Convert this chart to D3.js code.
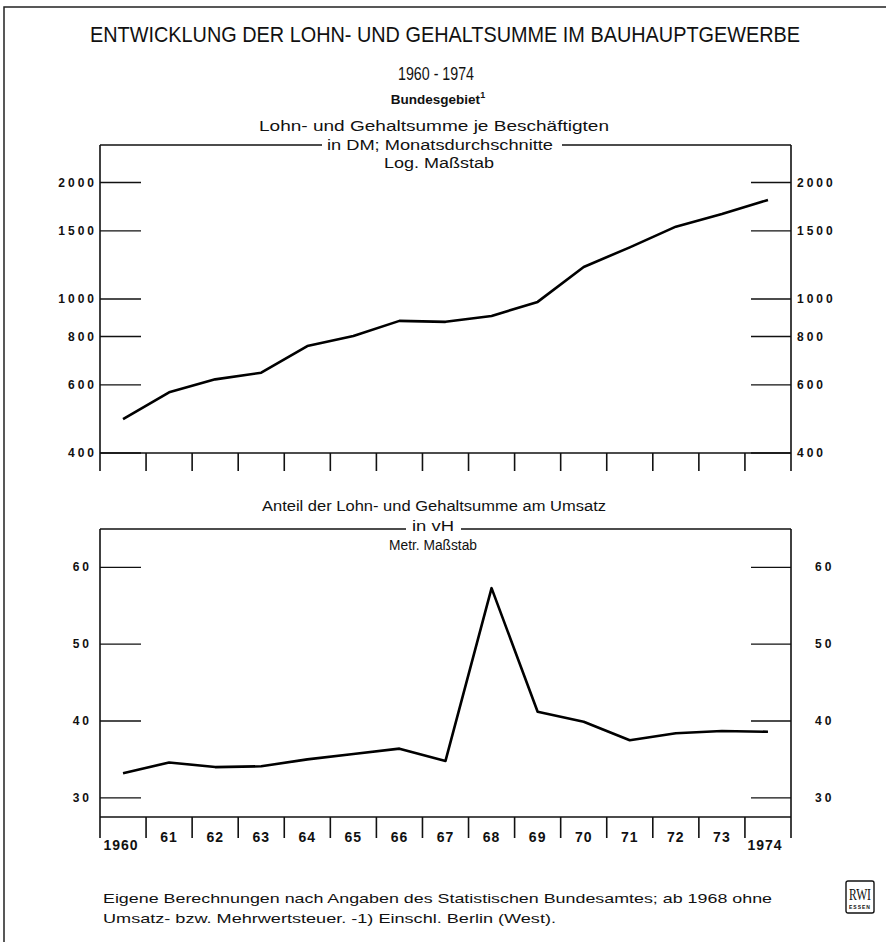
<!DOCTYPE html>
<html>
<head>
<meta charset="utf-8">
<script src="https://cdn.jsdelivr.net/npm/d3@7"></script>
<style>
    body { margin: 0; background: #fff; }
    text { font-family: "Liberation Sans", "DejaVu Sans", sans-serif; fill: #111; }
</style>
</head>
<body>
<div id="chart"></div>
<script>
// Jahre 1960 - 1974
var years = [1960, 1961, 1962, 1963, 1964, 1965, 1966, 1967, 1968, 1969, 1970, 1971, 1972, 1973, 1974]
var yearLabels = ['1960', '61', '62', '63', '64', '65', '66', '67', '68', '69', '70', '71', '72', '73', '1974']
// Lohn- und Gehaltsumme je Beschaeftigten, DM, Monatsdurchschnitt
var lohnJeBesch = [489, 574, 620, 645, 756, 802, 878, 873, 904, 983, 1210, 1360, 1538, 1659, 1803]
// Anteil am Umsatz, vH
var anteilUmsatz = [33.2, 34.6, 34.0, 34.1, 35.0, 35.7, 36.4, 34.8, 57.3, 41.2, 39.9, 37.5, 38.4, 38.7, 38.6]
var topTicks = [400, 600, 800, 1000, 1500, 2000]
var bottomTicks = [30, 40, 50, 60]

var width = 886, height = 942
var svg = d3.select('#chart').append('svg').attr('width', width).attr('height', height)
svg.append('rect').attr('width', width).attr('height', height).attr('fill', '#fff')

// Rahmen aussen
svg.append('path').attr('d', 'M4,942 V7 H886').attr('fill', 'none').attr('stroke', '#222').attr('stroke-width', 1.5)

var x = d3.scaleLinear().domain([1959.5, 1974.5]).range([100, 791])
var bounds = d3.range(1959.5, 1975, 1)

function addText(t, cx, y, size, len, weight) {
    var el = svg.append('text').attr('x', cx).attr('y', y).attr('text-anchor', 'middle')
        .style('font-size', size + 'px').text(t)
    if (len) el.attr('textLength', len).attr('lengthAdjust', 'spacingAndGlyphs')
    if (weight) el.style('font-weight', weight)
    return el
}

// Ueberschriften
addText('ENTWICKLUNG DER LOHN- UND GEHALTSUMME IM BAUHAUPTGEWERBE', 445, 42, 22, 710)
addText('1960 - 1974', 436, 80, 19, 76)
var bg = svg.append('text').attr('x', 438).attr('y', 104).attr('text-anchor', 'middle')
    .style('font-size', '13.5px').style('font-weight', 'bold')
bg.append('tspan').text('Bundesgebiet')
bg.append('tspan').attr('dy', -6).style('font-size', '9px').text('1')

addText('Lohn- und Gehaltsumme je Beschäftigten', 434, 131, 14, 350)
addText('in DM; Monatsdurchschnitte', 440, 150, 14, 226)
addText('Log. Maßstab', 439, 168, 14, 110)

addText('Anteil der Lohn- und Gehaltsumme am Umsatz', 434, 511, 14, 344)
addText('in vH', 433, 531, 14, 42)
addText('Metr. Maßstab', 433, 550, 14, 88)

function frame(top, bottom, tickEnd, gapFrom, gapTo) {
    var g = svg.append('g').attr('fill', 'none').attr('stroke', '#111').attr('stroke-width', 1.6)
    g.append('line').attr('x1', x.range()[0]).attr('x2', gapFrom).attr('y1', top).attr('y2', top)
    g.append('line').attr('x1', gapTo).attr('x2', x.range()[1]).attr('y1', top).attr('y2', top)
    g.append('line').attr('x1', x.range()[0]).attr('x2', x.range()[1]).attr('y1', bottom).attr('y2', bottom)
    g.append('line').attr('x1', x.range()[0]).attr('x2', x.range()[0]).attr('y1', top).attr('y2', tickEnd)
    g.append('line').attr('x1', x.range()[1]).attr('x2', x.range()[1]).attr('y1', top).attr('y2', tickEnd)
    // Jahresgrenzen
    g.selectAll('.b').data(bounds.slice(1, -1)).enter().append('line')
        .attr('x1', function (d) { return x(d) }).attr('x2', function (d) { return x(d) })
        .attr('y1', bottom).attr('y2', tickEnd)
}

function yTicks(scale, ticks, leftLabelX, rightLabelX) {
    var g = svg.append('g')
    g.selectAll('line.l').data(ticks).enter().append('line')
        .attr('x1', 100).attr('x2', 141)
        .attr('y1', function (d) { return scale(d) }).attr('y2', function (d) { return scale(d) })
        .attr('stroke', '#111').attr('stroke-width', 1.3)
    g.selectAll('line.r').data(ticks).enter().append('line')
        .attr('x1', 751).attr('x2', 791)
        .attr('y1', function (d) { return scale(d) }).attr('y2', function (d) { return scale(d) })
        .attr('stroke', '#111').attr('stroke-width', 1.3)
    g.selectAll('text.l').data(ticks).enter().append('text')
        .attr('x', leftLabelX).attr('y', function (d) { return scale(d) + 4 })
        .attr('text-anchor', 'end').style('font-size', '12px').style('font-weight', 'bold')
        .style('letter-spacing', '3px')
        .text(function (d) { return d })
    g.selectAll('text.r').data(ticks).enter().append('text')
        .attr('x', rightLabelX).attr('y', function (d) { return scale(d) + 4 })
        .style('font-size', '12px').style('font-weight', 'bold').style('letter-spacing', '3px')
        .text(function (d) { return d })
}

// oberes Diagramm, log. Massstab
var yTop = d3.scaleLog().domain([400, 2500]).range([453, 145])
frame(145, 453, 471, 322, 562)
yTicks(yTop, topTicks, 97, 797)

var line1 = d3.line().x(function (d, i) { return x(years[i]) }).y(function (d) { return yTop(d) })
svg.append('path').datum(lohnJeBesch).attr('d', line1)
    .attr('fill', 'none').attr('stroke', '#000').attr('stroke-width', 2.6).attr('stroke-linejoin', 'round')

// unteres Diagramm, metr. Massstab
var yBot = d3.scaleLinear().domain([27.5, 65]).range([817, 529])
frame(529, 817, 838, 406, 461)
yTicks(yBot, bottomTicks, 92, 815)

var line2 = d3.line().x(function (d, i) { return x(years[i]) }).y(function (d) { return yBot(d) })
svg.append('path').datum(anteilUmsatz).attr('d', line2)
    .attr('fill', 'none').attr('stroke', '#000').attr('stroke-width', 2.6).attr('stroke-linejoin', 'round')

svg.selectAll('text.yr').data(yearLabels).enter().append('text')
    .attr('x', function (d, i) { return x(years[i]) + (i == 0 ? -2 : i == 14 ? -3 : 0) })
    .attr('y', function (d, i) { return (i == 0 || i == 14) ? 850 : 842 })
    .attr('text-anchor', 'middle').style('font-size', '14px').style('font-weight', 'bold')
    .style('letter-spacing', '1px')
    .text(function (d) { return d })

// Fussnote
svg.append('text').attr('x', 103).attr('y', 903).style('font-size', '13px')
    .attr('textLength', 669).attr('lengthAdjust', 'spacingAndGlyphs')
    .text('Eigene Berechnungen nach Angaben des Statistischen Bundesamtes; ab 1968 ohne')
svg.append('text').attr('x', 103).attr('y', 923).style('font-size', '13px')
    .attr('textLength', 453).attr('lengthAdjust', 'spacingAndGlyphs')
    .text('Umsatz- bzw. Mehrwertsteuer. -1) Einschl. Berlin (West).')

// RWI Logo
var logo = svg.append('g').attr('transform', 'translate(846,881)')
logo.append('rect').attr('width', 28).attr('height', 32).attr('rx', 2)
    .attr('fill', '#fff').attr('stroke', '#111').attr('stroke-width', 1.4)
logo.append('text').attr('x', 14).attr('y', 19).attr('text-anchor', 'middle')
    .style('font-family', '"Liberation Serif", serif').style('font-size', '17px')
    .attr('textLength', 22).attr('lengthAdjust', 'spacingAndGlyphs').text('RWI')
logo.append('text').attr('x', 14).attr('y', 28).attr('text-anchor', 'middle')
    .style('font-size', '5px').style('font-weight', 'bold').style('letter-spacing', '1px').text('ESSEN')
</script>
</body>
</html>
